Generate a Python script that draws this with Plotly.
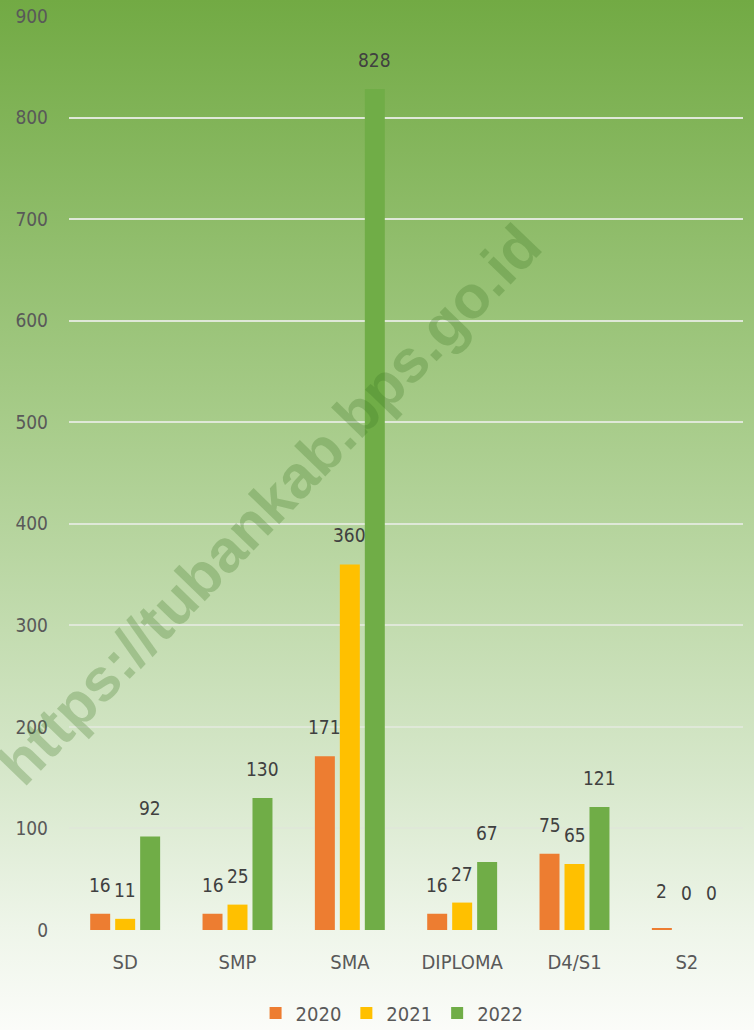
import base64
import plotly.graph_objects as go

categories = ["SD", "SMP", "SMA", "DIPLOMA", "D4/S1", "S2"]
years = ["2020", "2021", "2022"]
v2020 = [16, 16, 171, 16, 75, 2]
v2021 = [11, 25, 360, 27, 65, 0]
v2022 = [92, 130, 828, 67, 121, 0]
series = [v2020, v2021, v2022]
colors = ["#ed7d31", "#ffc000", "#70ad47"]
y_ticks = [0, 100, 200, 300, 400, 500, 600, 700, 800, 900]

FONT = "'Liberation Sans Narrow', 'DejaVu Sans Condensed', 'Liberation Sans', sans-serif"

fig = go.Figure()
for name, vals, col in zip(years, series, colors):
    fig.add_trace(go.Bar(x=categories, y=vals, name=name, marker_color=col,
                         marker_line_width=0))

# data labels above bars
shifts = [-25, 0, 25]
for vals, xs in zip(series, shifts):
    for c, v in zip(categories, vals):
        fig.add_annotation(x=c, y=v, text=str(v), showarrow=False,
                           xshift=xs, yshift=16 if v > 5 else 24, yanchor="bottom",
                           font=dict(family=FONT, size=19, color="#404040"))

# watermark
fig.add_annotation(xref="paper", yref="paper", x=0.298, y=0.465,
                   xanchor="center", yanchor="middle",
                   text="https://tubankab.bps.go.id", showarrow=False,
                   textangle=-46,
                   font=dict(family="Liberation Sans, Arial, sans-serif", size=60,
                             color="rgba(60,120,35,0.28)", weight="bold"))

# gradient background as svg image
svg = ('<svg xmlns="http://www.w3.org/2000/svg" width="754" height="1030" preserveAspectRatio="none">'
       '<defs><linearGradient id="g" x1="0" y1="0" x2="0" y2="1">'
       '<stop offset="0" stop-color="#72aa44"/>'
       '<stop offset="0.4" stop-color="#a6cb88"/>'
       '<stop offset="0.75" stop-color="#d6e7ca"/>'
       '<stop offset="0.9" stop-color="#eef5e9"/>'
       '<stop offset="1" stop-color="#fbfcf9"/>'
       '</linearGradient></defs><rect width="754" height="1030" fill="url(#g)"/></svg>')
uri = "data:image/svg+xml;base64," + base64.b64encode(svg.encode()).decode()

L, R, T, B = 69, 11, 16, 100
pw, ph = 754 - L - R, 1030 - T - B
fig.add_layout_image(source=uri, xref="paper", yref="paper",
                     x=-L / pw, y=1 + T / ph, sizex=754 / pw, sizey=1030 / ph,
                     xanchor="left", yanchor="top", sizing="stretch", layer="below")

fig.update_layout(
    width=754, height=1030,
    margin=dict(l=L, r=R, t=T, b=B, autoexpand=False),
    paper_bgcolor="#fbfcf9", plot_bgcolor="rgba(0,0,0,0)",
    barmode="group", bargap=0.333, bargroupgap=0.2,
    font=dict(family=FONT, size=20, color="#595959"),
    legend=dict(orientation="h", xref="container", yref="container",
                x=0.52, xanchor="center", y=0.0165, yanchor="middle",
                bgcolor="rgba(0,0,0,0)", font=dict(size=20, color="#595959"),
                itemwidth=30, traceorder="normal"),
    showlegend=True,
)
fig.update_xaxes(showgrid=False, showline=False, zeroline=False, automargin=False,
                 tickfont=dict(size=20, color="#595959"), ticks="", ticklabelstandoff=18)
fig.update_yaxes(range=[0, 900], tickvals=y_ticks, showgrid=True, automargin=False,
                 gridcolor="#dfe8d8", gridwidth=1.5, zeroline=False, showline=False,
                 ticks="", tickfont=dict(size=19, color="#595959"), ticklabelstandoff=20)

fig.write_html("out.html", config={"displayModeBar": False},
               post_script="document.body.style.margin='0';document.body.style.overflow='hidden';")
